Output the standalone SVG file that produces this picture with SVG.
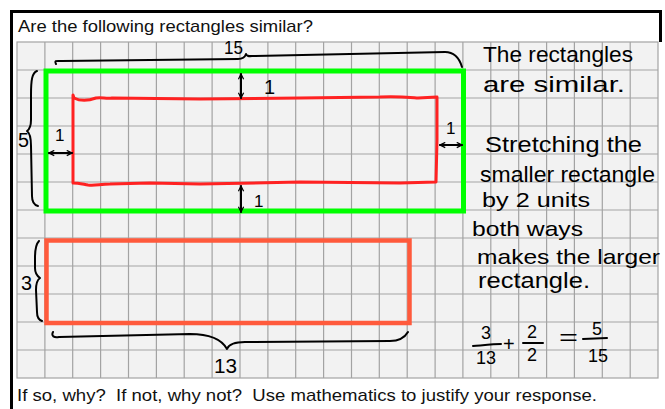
<svg xmlns="http://www.w3.org/2000/svg" width="665" height="409" viewBox="0 0 665 409">
<defs>
<style>
.print{font-family:"Liberation Sans",Arial,sans-serif;fill:#111;white-space:pre}
.hand{font-family:"Liberation Sans Narrow","Liberation Sans",sans-serif;fill:#000}
.pen{fill:none;stroke:#000;stroke-width:2;stroke-linecap:round;stroke-linejoin:round}
.grid{fill:none;stroke:#a3a3a3;stroke-width:1.2}
</style>
<marker id="ah" viewBox="0 0 8 8" refX="7" refY="4" markerWidth="7" markerHeight="7" orient="auto-start-reverse" markerUnits="userSpaceOnUse">
<path d="M1,1 L7,4 L1,7" fill="none" stroke="#000" stroke-width="1.4"/>
</marker>
</defs>
<rect width="665" height="409" fill="#fff"/>
<g id="frame">
<path d="M11.5,409 L11.5,11.5 L660.5,11.5 L660.5,42" fill="none" stroke="#000" stroke-width="3"/>
</g>
<text class="print" x="18" y="32" font-size="17" textLength="295" lengthAdjust="spacingAndGlyphs">Are the following rectangles similar?</text>
<g id="grid">
<rect x="17" y="42" width="641" height="336" fill="#f2f2f2" stroke="#a3a3a3" stroke-width="1.2"/>
<path class="grid" d="M44.9,42V378M72.7,42V378M100.6,42V378M128.5,42V378M156.4,42V378M184.2,42V378M212.1,42V378M240,42V378M267.9,42V378M295.7,42V378M323.6,42V378M351.5,42V378M379.3,42V378M407.2,42V378M435.1,42V378M462.9,42V378M490.8,42V378M518.7,42V378M546.6,42V378M574.4,42V378M602.3,42V378M630.2,42V378
M17,70H658M17,98H658M17,126H658M17,154H658M17,182H658M17,210H658M17,238H658M17,266H658M17,294H658M17,322H658M17,350H658"/>
</g>
<g id="green-rect"><rect x="46" y="71" width="417.5" height="140" fill="none" stroke="#00ff00" stroke-width="5"/></g>
<g id="red-rect"><path d="M73,95 L74,98 C80,101 88,101 96,98 C102,97 106,99 112,98 L200,99 L300,98 L380,97 C395,96 405,97 418,98 L437,97 L437,140 L436,182 L400,183 L300,182 L200,184 L150,183 L110,184 C100,184 95,186 88,185 C82,184 78,183 73,183 L73,140 Z" fill="none" stroke="#ff2222" stroke-width="3" stroke-linejoin="round"/></g>
<g id="orange-rect"><rect x="46.5" y="240.5" width="363" height="82.5" fill="none" stroke="#ff5a3c" stroke-width="4.5"/></g>
<g id="connectors">
<path class="pen" d="M56,64 C54,60 57,61 62,61 L238,59 C243,59 245,57 246,54 C247,57 250,56 255,56 L445,52 C454,52 459,57 462,67"/>
<path class="pen" d="M37,71 C32,73 31,80 31,95 L31,120 C31,126 30,129 27,131 C30,133 31,137 31,146 L32,196 C32,202 34,205 38,206"/>
<path class="pen" d="M39,241 C36,244 35,250 35,258 L35,268 C35,273 37,276 40,278 C37,280 36,284 36,290 L37,312 C37,317 39,320 42,321"/>
<path class="pen" d="M53,332 C51,336 54,338 59,337 L190,334 C210,334 222,340 227,349 C229,344 234,342 245,342 L390,341 C400,341 405,337 408,332"/>
<path class="pen" stroke-width="1.8" d="M241,74 L241,98" marker-start="url(#ah)" marker-end="url(#ah)"/>
<path class="pen" stroke-width="1.8" d="M241,186 L241,212" marker-start="url(#ah)" marker-end="url(#ah)"/>
<path class="pen" stroke-width="1.8" d="M49,153 L72,153" marker-start="url(#ah)" marker-end="url(#ah)"/>
<path class="pen" stroke-width="1.8" d="M440,145 L462,145" marker-start="url(#ah)" marker-end="url(#ah)"/>
<path class="pen" d="M473,346 C485,345 495,344 501,344"/>
<path class="pen" d="M523,343 L543,343"/>
<path class="pen" d="M583,339 L607,338"/>
</g>
<g id="labels">
<text class="hand" x="224" y="54" font-size="19" textLength="19" lengthAdjust="spacingAndGlyphs">15</text>
<text class="hand" x="18" y="147" font-size="20" textLength="11" lengthAdjust="spacingAndGlyphs">5</text>
<text class="hand" x="21" y="290" font-size="20" textLength="11" lengthAdjust="spacingAndGlyphs">3</text>
<text class="hand" x="214" y="373" font-size="20" textLength="23" lengthAdjust="spacingAndGlyphs">13</text>
<text class="hand" x="264" y="94" font-size="20">1</text>
<text class="hand" x="254" y="207" font-size="17">1</text>
<text class="hand" x="55" y="141" font-size="17">1</text>
<text class="hand" x="446" y="134" font-size="17">1</text>
</g>
<g id="explanation">
<text class="hand" x="483" y="62" font-size="22" textLength="150" lengthAdjust="spacingAndGlyphs">The rectangles</text>
<text class="hand" x="483" y="92" font-size="22" textLength="142" lengthAdjust="spacingAndGlyphs">are similar.</text>
<text class="hand" x="485" y="152" font-size="22" textLength="157" lengthAdjust="spacingAndGlyphs">Stretching the</text>
<text class="hand" x="480" y="182" font-size="22" textLength="175" lengthAdjust="spacingAndGlyphs">smaller rectangle</text>
<text class="hand" x="482" y="207" font-size="21" textLength="108" lengthAdjust="spacingAndGlyphs">by 2 units</text>
<text class="hand" x="472" y="236" font-size="21" textLength="111" lengthAdjust="spacingAndGlyphs">both ways</text>
<text class="hand" x="477" y="264" font-size="21" textLength="183" lengthAdjust="spacingAndGlyphs">makes the larger</text>
<text class="hand" x="478" y="288" font-size="22" textLength="112" lengthAdjust="spacingAndGlyphs">rectangle.</text>
</g>
<g id="equation">
<text class="hand" x="481" y="339" font-size="18">3</text>
<text class="hand" x="476" y="364" font-size="18">13</text>
<text class="hand" x="503" y="351" font-size="20">+</text>
<text class="hand" x="527" y="338" font-size="18">2</text>
<text class="hand" x="527" y="361" font-size="18">2</text>
<text class="hand" x="559" y="345" font-size="22" textLength="19" lengthAdjust="spacingAndGlyphs">=</text>
<text class="hand" x="592" y="335" font-size="18">5</text>
<text class="hand" x="588" y="362" font-size="18">15</text>
</g>
<text class="print" x="17" y="401" font-size="17" textLength="580" lengthAdjust="spacingAndGlyphs" xml:space="preserve">If so, why?  If not, why not?  Use mathematics to justify your response.</text>
</svg>
